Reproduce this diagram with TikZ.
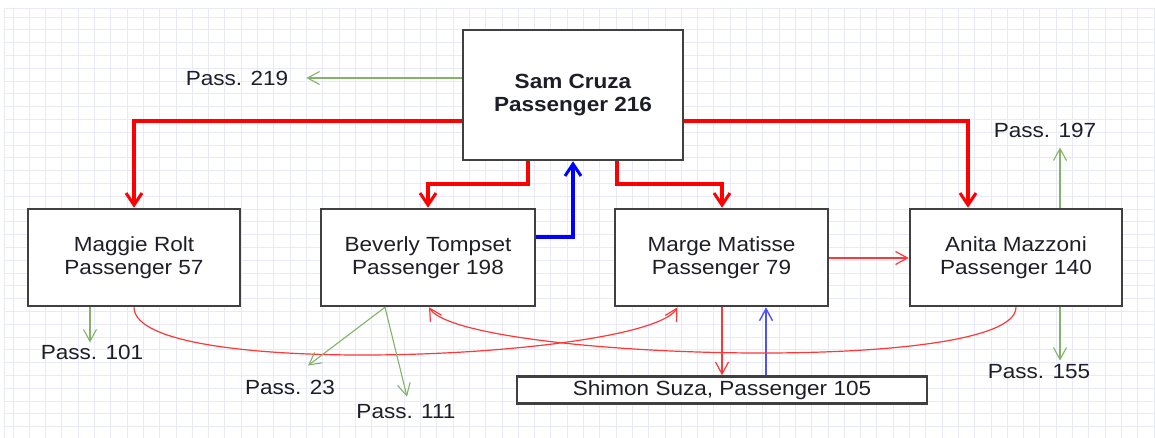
\documentclass[tikz,border=0pt]{standalone}
\usepackage{fontspec}
\setmainfont{Liberation Sans}[FakeStretch=1.1]
\usepackage{xcolor}
\usepackage{tikz}
\usetikzlibrary{arrows.meta}
\definecolor{gridc}{RGB}{233,233,252}
\definecolor{edgec}{RGB}{64,64,64}
\definecolor{inkc}{RGB}{30,30,40}
\definecolor{redc}{RGB}{255,0,0}
\definecolor{thinred}{RGB}{255,55,55}
\definecolor{passg}{RGB}{130,179,102}
\definecolor{bluec}{RGB}{0,0,255}
\definecolor{thinblue}{RGB}{80,80,255}
\newcommand{\txtsize}{\fontsize{20.5}{23}\selectfont}

\begin{document}
\begin{tikzpicture}[x=1pt,y=-1pt,
    person/.style={draw=edgec,line width=2.5pt,fill=white,inner sep=0pt,
                   align=center,text=inkc,font=\txtsize},
    passlbl/.style={inner sep=2pt,text=inkc,font=\txtsize},
    bigred/.style={draw=redc,line width=3.5pt,-{Straight Barb[length=12pt,width=16pt,line width=3pt]}},
    bigblue/.style={draw=bluec,line width=3.5pt,-{Straight Barb[length=12pt,width=16pt,line width=3pt]}},
    thinred/.style={draw=thinred,line width=1.2pt,-{Straight Barb[length=12pt,width=13pt,line width=1.2pt]}},
    thinblue/.style={draw=thinblue,line width=1.4pt,-{Straight Barb[length=12pt,width=13pt,line width=1.4pt]}},
    pass/.style={draw=passg,line width=1.1pt,-{Straight Barb[length=12pt,width=13pt,line width=1.1pt]}}]
  \useasboundingbox (0,0) rectangle (1155,438);
  \fill[white] (0,0) rectangle (1155,438);
  % grid paper
  \foreach \gx in {0,...,70} {
    \draw[gridc,line width=0.9pt] (13+16.3*\gx,8) -- (13+16.3*\gx,438);
  }
  \foreach \gy in {0,...,33} {
    \draw[gridc,line width=0.9pt] (4,17+12.8*\gy) -- (1155,17+12.8*\gy);
  }
  \draw[gridc,line width=0.9pt] (4,8) -- (4,438);
  \draw[gridc,line width=0.9pt] (4,8) -- (1155,8);

  % people
  \node[person,minimum width=220pt,minimum height=130pt] (sam) at (573,95)
    {\bfseries Sam Cruza\\\bfseries Passenger 216};
  \node[person,minimum width=212pt,minimum height=97pt] (maggie) at (134,257.5)
    {Maggie Rolt\\Passenger 57};
  \node[person,minimum width=214pt,minimum height=97pt] (beverly) at (428,257.5)
    {Beverly Tompset\\Passenger 198};
  \node[person,minimum width=213pt,minimum height=97pt] (marge) at (721.5,257.5)
    {Marge Matisse\\Passenger 79};
  \node[person,minimum width=212pt,minimum height=97pt] (anita) at (1016,257.5)
    {Anita Mazzoni\\Passenger 140};
  \node[person,minimum width=410pt,minimum height=27pt] (shimon) at (722,390)
    {Shimon Suza, Passenger 105};

  % other passengers
  \node[passlbl] (p219) at (237,78) {Pass. 219};
  \node[passlbl] (p101) at (92,352) {Pass. 101};
  \node[passlbl] (p23) at (290,387) {Pass. 23};
  \node[passlbl] (p111) at (406,412) {Pass. 111};
  \node[passlbl] (p197) at (1045,130) {Pass. 197};
  \node[passlbl] (p155) at (1039,372) {Pass. 155};

  % thick links from Sam
  \draw[bigred] ([yshift=-26pt]sam.west) -| (maggie.north);
  \draw[bigred] ([yshift=-26pt]sam.east) -| ([xshift=-48pt]anita.north);
  \draw[bigred] ([xshift=-45pt]sam.south) -- ++(0,23) -| (beverly.north);
  \draw[bigred] ([xshift=44pt]sam.south) -- ++(0,23) -| ([xshift=0.5pt]marge.north);
  \draw[bigblue] ([yshift=20.5pt]beverly.east) -| (sam.south);

  % thin links
  \draw[thinred] ([yshift=-0.5pt]marge.east) -- ([yshift=-0.5pt]anita.west);
  \draw[thinred] ([xshift=0.5pt]marge.south) -- ([xshift=0.5pt]marge.south |- shimon.north);
  \draw[thinblue] ([xshift=44pt]shimon.north) -- ([xshift=44pt]shimon.north |- marge.south);
  \draw[thinred] (maggie.south) .. controls +(0,74) and +(-30,52) .. ([xshift=-44pt]marge.south);
  \draw[thinred] (anita.south) .. controls +(0,69) and +(32,52) .. ([xshift=1pt]beverly.south);

  % green links
  \draw[pass] ([yshift=17pt]sam.west) -- ([xshift=16pt]p219.east);
  \draw[pass] ([xshift=-44pt]maggie.south) -- ([xshift=-2pt]p101.north);
  \draw[pass] ([xshift=-43pt]beverly.south) -- ([xshift=18pt,yshift=12pt]p23.north);
  \draw[pass] ([xshift=-43pt]beverly.south) -- ([xshift=1pt,yshift=6pt]p111.north);
  \draw[pass] ([xshift=44pt]anita.north) -- ([xshift=15pt,yshift=-8pt]p197.south);
  \draw[pass] ([xshift=44pt]anita.south) -- ([xshift=21pt,yshift=2pt]p155.north);
\end{tikzpicture}
\end{document}
